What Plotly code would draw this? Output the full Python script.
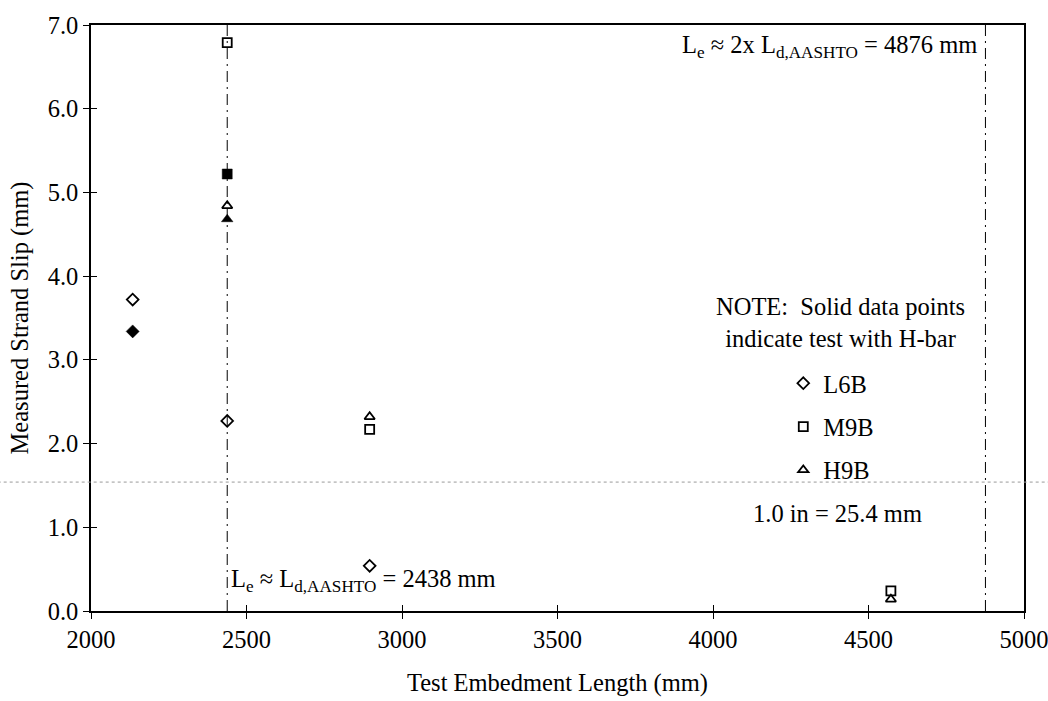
import plotly.graph_objects as go

# Embedment length (mm) and measured strand slip (mm) for each specimen series.
# "open" = test without H-bar, "solid" = test with H-bar.
l6b_len_open = [2134, 2438, 2896]
l6b_slip_open = [3.72, 2.27, 0.54]
l6b_len_solid = [2134]
l6b_slip_solid = [3.34]

m9b_len_open = [2438, 2896, 4572]
m9b_slip_open = [6.79, 2.17, 0.24]
m9b_len_solid = [2438]
m9b_slip_solid = [5.22]

h9b_len_open = [2438, 2896, 4572]
h9b_slip_open = [4.84, 2.32, 0.14]
h9b_len_solid = [2438]
h9b_slip_solid = [4.68]

# Reference embedment lengths (mm)
ld_aashto = 2438
ld_aashto_2x = 4876

x_ticks = [2000, 2500, 3000, 3500, 4000, 4500, 5000]
y_ticks = [0, 1, 2, 3, 4, 5, 6, 7]

FONT = "Liberation Serif"
FS = 24.5

fig = go.Figure()

series = [
    ("L6B", "diamond", l6b_len_open, l6b_slip_open, l6b_len_solid, l6b_slip_solid, 9),
    ("M9B", "square", m9b_len_open, m9b_slip_open, m9b_len_solid, m9b_slip_solid, 9),
    ("H9B", "triangle-up", h9b_len_open, h9b_slip_open, h9b_len_solid, h9b_slip_solid, 9),
]

for name, sym, xo, yo, xs, ys, size in series:
    fig.add_trace(go.Scatter(
        x=xo, y=yo, mode="markers", name=name, legendgroup=name,
        marker=dict(symbol=sym + "-open", size=size, color="black",
                    line=dict(width=1.8, color="black")),
    ))
    fig.add_trace(go.Scatter(
        x=xs, y=ys, mode="markers", name=name + " (H-bar)", legendgroup=name,
        showlegend=False,
        marker=dict(symbol=sym, size=size + 1, color="black",
                    line=dict(width=0.5, color="black")),
    ))

# companion axes carrying the inward half of the crossing tick marks
fig.add_trace(go.Scatter(x=[], y=[], xaxis="x2", yaxis="y2", showlegend=False))

dash = "11px,5px,2px,5px"
for xv in (ld_aashto, ld_aashto_2x):
    fig.add_shape(type="line", xref="x", yref="y", x0=xv, x1=xv, y0=0, y1=7,
                  line=dict(color="black", width=1, dash=dash))

# faint dotted rule running across the page
fig.add_shape(type="line", xref="paper", yref="paper", x0=-0.1, x1=1.03,
              y0=0.22, y1=0.22, line=dict(color="#9a9a9a", width=1, dash="dot"))

txt_font = dict(family=FONT, size=FS, color="black")
fig.add_annotation(
    x=ld_aashto, y=0.37, xref="x", yref="y", xanchor="left", yanchor="middle",
    xshift=2, text="L<sub>e</sub> ≈ L<sub>d,AASHTO</sub> = 2438 mm",
    showarrow=False, font=txt_font)
fig.add_annotation(
    x=ld_aashto_2x, y=6.74, xref="x", yref="y", xanchor="right", yanchor="middle",
    xshift=-6, text="L<sub>e</sub> ≈ 2x L<sub>d,AASHTO</sub> = 4876 mm",
    showarrow=False, font=txt_font)
fig.add_annotation(
    x=0.803, y=0.493, xref="paper", yref="paper", xanchor="center",
    yanchor="middle", align="center",
    text="NOTE:  Solid data points<br>indicate test with H-bar",
    showarrow=False, font=txt_font)
fig.add_annotation(
    x=0.800, y=0.167, xref="paper", yref="paper", xanchor="center",
    yanchor="middle", text="1.0 in = 25.4 mm", showarrow=False,
    font=txt_font)

axis_common = dict(
    showgrid=False, zeroline=False, showline=True, linecolor="black",
    linewidth=1.6, mirror=True, ticks="outside", ticklen=6, tickwidth=1,
    tickcolor="black", tickfont=txt_font, automargin=False,
    ticklabeloverflow="allow",
)

fig.update_layout(
    width=1048, height=701,
    margin=dict(l=91, r=24, t=25, b=90),
    paper_bgcolor="white", plot_bgcolor="white",
    font=txt_font,
    xaxis=dict(
        range=[2000, 5000], tickvals=x_ticks, ticktext=[str(v) for v in x_ticks],
        title=dict(text="Test Embedment Length (mm)", standoff=22, font=txt_font),
        **axis_common),
    yaxis=dict(
        range=[0, 7], tickvals=y_ticks, ticktext=[f"{v:.1f}" for v in y_ticks],
        title=dict(text="Measured Strand Slip (mm)", standoff=12, font=txt_font),
        **axis_common),
    xaxis2=dict(overlaying="x", matches="x", anchor="y2", showgrid=False,
                zeroline=False, showline=False, showticklabels=False,
                automargin=False,
                tickvals=x_ticks, ticks="inside", ticklen=6, tickcolor="black"),
    yaxis2=dict(overlaying="y", matches="y", anchor="x2", showgrid=False,
                zeroline=False, showline=False, showticklabels=False,
                automargin=False,
                tickvals=y_ticks, ticks="inside", ticklen=6, tickcolor="black"),
    legend=dict(x=0.742, y=0.427, xanchor="left", yanchor="top",
                bgcolor="rgba(0,0,0,0)", borderwidth=0, tracegroupgap=8.5,
                font=txt_font),
)

fig.write_html("out.html")
